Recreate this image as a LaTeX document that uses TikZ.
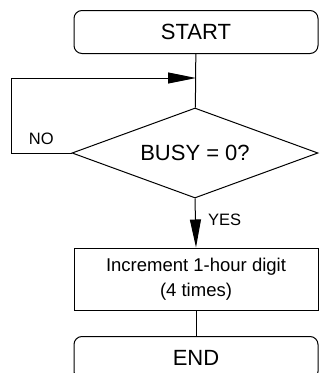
\documentclass[tikz,border=0pt]{standalone}
\usepackage{fontspec}
\setmainfont{Liberation Sans}
\usetikzlibrary{shapes.geometric,arrows.meta,positioning}

\begin{document}
\begin{tikzpicture}[x=1pt, y=-1pt, line width=1pt,
    term/.style={draw, rounded corners=8pt, minimum width=244pt, minimum height=43pt,
      font=\fontsize{22}{26}\selectfont},
    proc/.style={draw, minimum width=244pt, minimum height=62pt, align=center,
      font=\fontsize{18.5}{25}\selectfont},
    cond/.style={draw, diamond, aspect=2.7, inner sep=0pt, minimum width=246pt,
      minimum height=90pt, font=\fontsize{22}{26}\selectfont},
    lbl/.style={font=\fontsize{16.5}{20}\selectfont, inner sep=2pt},
    tip/.style={-{Triangle[length=28pt,width=11pt]}}]
      \useasboundingbox (0,0) rectangle (320,373);
      \clip (0,0) rectangle (320,373);
      %
      \node[term] (start) at (196,32) {START};          % top terminal
      \node[cond] (busy) at (195,153) {BUSY = 0?};      % test
      \node[proc] (inc) at (196,279) {Increment 1-hour digit\\(4 times)};
      \node[term] (end) at (196,358) {END};             % bottom terminal
      %
      \coordinate (join) at (196,78);
      \coordinate (nobend) at (11,153);
      %
      \draw (start) -- (busy);
      \draw[tip] (busy.west) -- node[lbl, above=6pt] {NO} (nobend) |- (join);
      \draw[tip] (busy.south) -- node[lbl, midway, right=10pt, yshift=3pt] {YES} (inc.north);
      \draw (inc) -- (end);
      %
\end{tikzpicture}
\end{document}
